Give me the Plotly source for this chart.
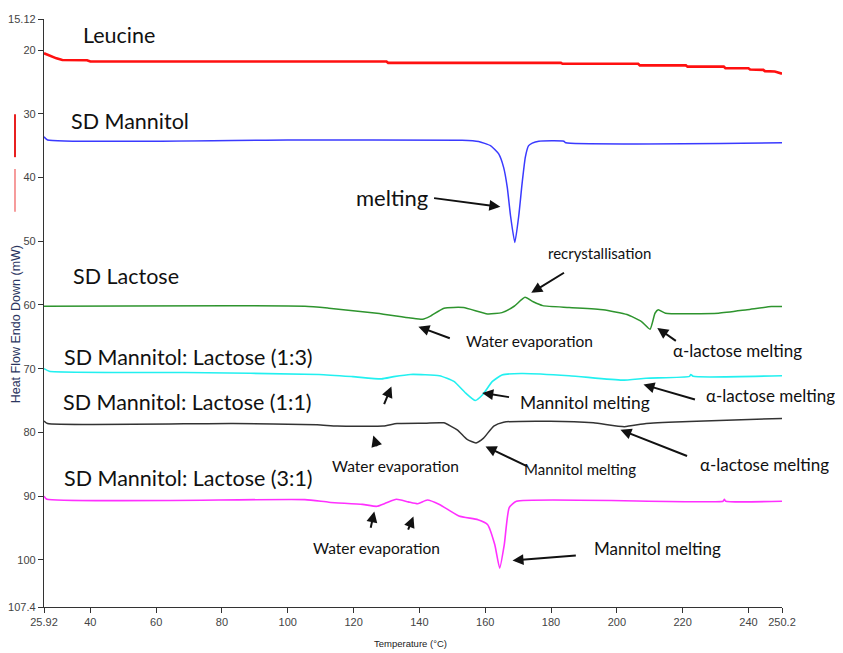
import plotly.graph_objects as go

# ---------------- data (temperature °C, heat flow mW) ----------------
leucine_T = [25.92, 27.8, 29.7, 31.5, 39.0, 40.0, 130.0, 130.5, 183.0, 183.5, 206.5, 207.0,
             221.0, 221.5, 232.5, 233.0, 240.0, 240.5, 244.5, 245.0, 248.0, 249.0, 250.2]
leucine_hf = [20.5, 20.95, 21.3, 21.55, 21.6, 21.8, 21.8, 22.0, 22.0, 22.15, 22.15, 22.4,
              22.4, 22.6, 22.6, 22.85, 22.85, 23.05, 23.1, 23.3, 23.35, 23.5, 23.7]

mannitol_T = [25.92, 27.0, 100.0, 153.0, 158.0, 161.6, 164.1, 165.6, 166.7, 167.7, 169.0,
              170.2, 171.2, 172.2, 173.2, 174.3, 176.3, 183.9, 184.5, 250.2]
mannitol_hf = [33.6, 34.1, 34.1, 34.15, 34.35, 35.0, 36.3, 38.4, 41.5, 46.0, 50.2,
               46.0, 41.0, 36.8, 35.0, 34.6, 34.3, 34.3, 34.55, 34.55]

lactose_T = [25.92, 105.2, 112.5, 127.1, 137.3, 141.0, 143.2, 147.5, 153.4, 160.7, 165.1,
             168.8, 172.1, 174.6, 177.5, 185.5, 195.8, 203.1, 207.5, 210.1, 211.6, 212.6,
             214.8, 230.9, 239.6, 247.0, 250.2]
lactose_hf = [60.2, 60.2, 60.5, 61.3, 62.05, 62.25, 61.8, 60.5, 60.4, 61.4, 61.2,
              60.2, 58.8, 59.5, 60.1, 60.4, 60.75, 61.5, 62.6, 63.8, 61.3, 60.75,
              61.3, 61.3, 60.75, 60.25, 60.25]

mix13_T = [25.92, 27.5, 68.6, 109.5, 119.8, 128.5, 132.2, 137.3, 146.1, 150.5, 154.1,
           157.0, 159.2, 162.2, 165.1, 170.9, 185.5, 201.6, 208.9, 222.1, 222.5, 223.2, 250.2]
mix13_hf = [70.0, 70.4, 70.6, 70.9, 71.25, 71.6, 71.25, 70.9, 71.1, 72.0, 73.85,
            75.0, 74.1, 72.0, 71.0, 70.75, 71.1, 71.8, 71.5, 71.2, 70.9, 71.2, 71.1]

mix11_T = [25.92, 27.0, 83.3, 108.9, 115.0, 129.0, 133.2, 141.7, 147.4, 151.5, 154.5,
           157.2, 159.5, 162.6, 165.6, 179.8, 192.9, 202.3, 208.9, 222.0, 250.2]
mix11_hf = [78.2, 78.6, 78.6, 78.8, 79.0, 79.0, 78.6, 78.55, 78.5, 79.6, 81.1,
            81.65, 80.9, 79.0, 78.4, 78.25, 78.5, 79.1, 78.6, 78.3, 77.8]

mix31_T = [25.92, 26.8, 105.2, 112.5, 122.7, 127.1, 130.0, 133.0, 136.6, 139.5, 142.4,
           146.1, 152.0, 157.8, 160.7, 162.9, 164.4, 165.8, 167.3, 169.5, 232.3, 232.7,
           233.1, 250.2]
mix31_hf = [90.0, 90.5, 90.55, 90.95, 91.3, 91.6, 91.05, 90.5, 90.9, 91.2, 90.6,
            91.3, 93.1, 93.7, 94.45, 97.6, 101.3, 97.6, 91.8, 90.8, 90.8, 90.5,
            90.8, 90.8]

x_ticks = [25.92, 40, 60, 80, 100, 120, 140, 160, 180, 200, 220, 240, 250.2]
x_tick_text = ["25.92", "40", "60", "80", "100", "120", "140", "160", "180", "200", "220", "240", "250.2"]
y_ticks = [15.12, 20, 30, 40, 50, 60, 70, 80, 90, 100, 107.4]
y_tick_text = ["15.12", "20", "30", "40", "50", "60", "70", "80", "90", "100", "107.4"]

series = [
    ("Leucine", leucine_T, leucine_hf, "#ff1010", 2.6, "linear"),
    ("SD Mannitol", mannitol_T, mannitol_hf, "#3a3aff", 1.5, "spline"),
    ("SD Lactose", lactose_T, lactose_hf, "#2e942e", 1.5, "spline"),
    ("SD Mannitol: Lactose (1:3)", mix13_T, mix13_hf, "#22f0f0", 1.6, "spline"),
    ("SD Mannitol: Lactose (1:1)", mix11_T, mix11_hf, "#333333", 1.5, "spline"),
    ("SD Mannitol: Lactose (3:1)", mix31_T, mix31_hf, "#ff30ff", 1.6, "spline"),
]

# labels: (text, T, hf, size)
labels = [
    ("Leucine", 48.8, 17.65, 21.5),
    ("SD Mannitol", 52.2, 31.1, 21.5),
    ("melting", 131.8, 43.2, 22),
    ("recrystallisation", 194.7, 51.8, 15),
    ("SD Lactose", 50.9, 55.4, 21.5),
    ("Water evaporation", 173.4, 65.6, 15.5),
    ("α-lactose melting", 236.7, 67.2, 17),
    ("SD Mannitol: Lactose (1:3)", 69.8, 68.1, 21.5),
    ("Mannitol melting", 190.2, 75.3, 17.4),
    ("α-lactose melting", 246.7, 74.2, 17),
    ("SD Mannitol: Lactose (1:1)", 69.5, 75.2, 21.5),
    ("Water evaporation", 132.7, 85.2, 15.5),
    ("Mannitol melting", 188.9, 85.8, 15),
    ("α-lactose melting", 244.9, 85.0, 17),
    ("SD Mannitol: Lactose (3:1)", 69.8, 87.1, 21.5),
    ("Water evaporation", 126.9, 98.1, 15.5),
    ("Mannitol melting", 212.3, 98.2, 17),
]

# arrows: (tail T, tail hf, head T, head hf)
arrows = [
    (144.0, 43.2, 164.6, 44.6),
    (184.4, 54.8, 174.0, 58.1),
    (149.7, 65.3, 139.7, 63.4),
    (218.4, 65.8, 212.3, 63.6),
    (129.1, 75.8, 131.5, 72.8),
    (167.7, 74.5, 159.1, 73.8),
    (224.2, 74.9, 208.1, 72.5),
    (127.2, 82.4, 126.0, 80.5),
    (173.1, 85.4, 160.1, 82.2),
    (221.8, 83.8, 201.1, 79.6),
    (125.1, 95.2, 126.3, 92.4),
    (136.4, 95.5, 138.2, 93.2),
    (188.0, 99.3, 168.3, 100.1),
]

fig = go.Figure()
for name, xs, ys, col, w, shp in series:
    line = dict(color=col, width=w, shape=shp)
    if shp == "spline":
        line["smoothing"] = 0.5
    fig.add_trace(go.Scatter(x=xs, y=ys, mode="lines", name=name,
                             line=line, showlegend=False, hoverinfo="skip"))

ann = []
for txt, tx, ty, sz in labels:
    ann.append(dict(x=tx, y=ty, xref="x", yref="y", text=txt, showarrow=False,
                    font=dict(family="Lato, 'Open Sans', sans-serif", size=sz, color="#111111"),
                    xanchor="center", yanchor="middle"))
for x0, y0, x1, y1 in arrows:
    ann.append(dict(x=x1, y=y1, ax=x0, ay=y0, xref="x", yref="y", axref="x", ayref="y",
                    text="", showarrow=True, arrowhead=2, arrowsize=1.1, arrowwidth=2,
                    arrowcolor="#111111"))

ann.append(dict(x=0.497, y=-0.062, xref="paper", yref="paper", text="Temperature (°C)",
                showarrow=False, font=dict(family="'Liberation Sans', sans-serif",
                                           size=9.5, color="#222222"),
                xanchor="center", yanchor="middle"))
ann.append(dict(x=-0.0385, y=0.48, xref="paper", yref="paper", text="Heat Flow Endo Down (mW)",
                showarrow=False, textangle=-90,
                font=dict(family="'Liberation Sans', sans-serif", size=12.5, color="#2b3560"),
                xanchor="center", yanchor="middle"))

shapes = [
    dict(type="line", xref="paper", yref="paper", x0=-0.0393, x1=-0.0393, y0=0.838, y1=0.765,
         line=dict(color="#e82020", width=2)),
    dict(type="line", xref="paper", yref="paper", x0=-0.0393, x1=-0.0393, y0=0.745, y1=0.672,
         line=dict(color="#f05a5a", width=1.2)),
]

tickfont = dict(family="'Liberation Sans Narrow', 'Liberation Sans', sans-serif", size=11, color="#444444")

# page body adds an 8px offset, so the figure is sized/margined to compensate
fig.update_layout(
    width=835, height=645,
    margin=dict(l=36, r=61, t=11, b=46),
    paper_bgcolor="white", plot_bgcolor="white",
    annotations=ann, shapes=shapes,
    xaxis=dict(range=[25.92, 250.2], tickvals=x_ticks, ticktext=x_tick_text, automargin=False,
               showgrid=False, zeroline=False, showline=True, linecolor="#333333", linewidth=1.3,
               ticks="outside", ticklen=5, tickcolor="#333333", tickfont=tickfont),
    yaxis=dict(range=[107.4, 15.12], tickvals=y_ticks, ticktext=y_tick_text, automargin=False,
               showgrid=False, zeroline=False, showline=True, linecolor="#333333", linewidth=1.3,
               ticks="outside", ticklen=5, tickcolor="#333333", tickfont=tickfont),
)

fig.write_html("out.html")
